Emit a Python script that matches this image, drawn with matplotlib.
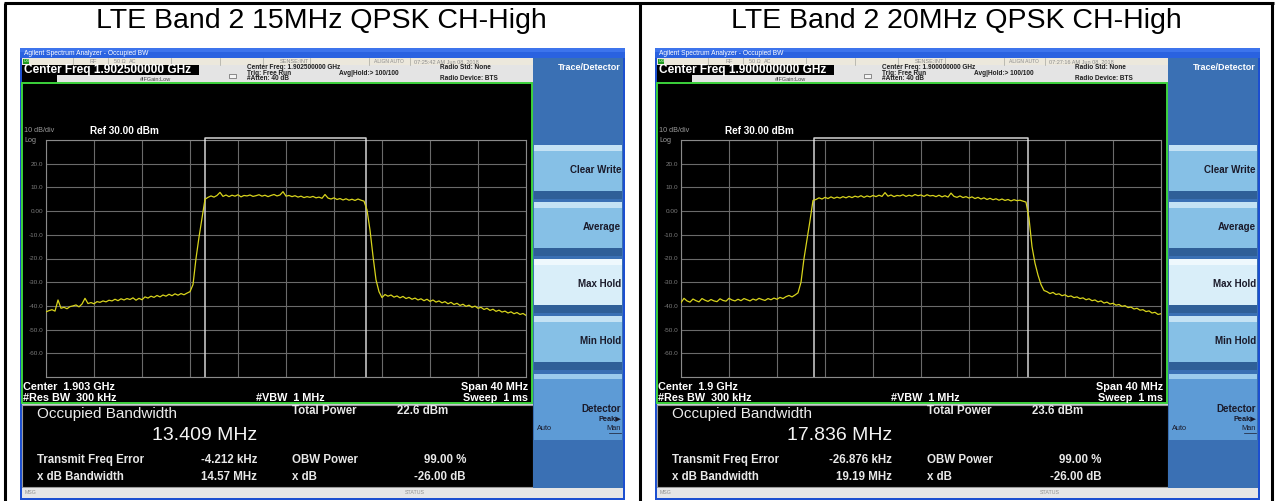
import numpy as np
import matplotlib
matplotlib.use("Agg")
import matplotlib.pyplot as plt
from matplotlib.patches import Rectangle

W, H = 1276, 501
plt.rcParams['font.family'] = ['Liberation Sans', 'DejaVu Sans']

# ---------------- data ----------------
titles = ["LTE Band 2 15MHz QPSK CH-High", "LTE Band 2 20MHz QPSK CH-High"]
center_freqs = ["1.902500000 GHz", "1.900000000 GHz"]
timestamps = ["07:25:42 AM Jun 08, 2018", "07:27:16 AM Jun 08, 2018"]
center_labels = ["Center  1.903 GHz", "Center  1.9 GHz"]
obw_values = ["13.409 MHz", "17.836 MHz"]
total_powers = ["22.6 dBm", "23.6 dBm"]
freq_errors = ["-4.212 kHz", "-26.876 kHz"]
xdb_bandwidths = ["14.57 MHz", "19.19 MHz"]
obw_edges_15 = [-6.709, 6.700]     # MHz offset from center
obw_edges_20 = [-8.945, 8.891]
ytick_vals = [-70, -60, -50, -40, -30, -20, -10, 0, 10, 20, 30]
ytick_labels = ["", "-60.0", "-50.0", "-40.0", "-30.0", "-20.0", "-10.0", "0.00", "10.0", "20.0", ""]
button_labels = ["Clear Write", "Average", "Max Hold", "Min Hold"]

# trace levels (dBm), sweep -20 .. +20 MHz, 0.25 MHz per point
trace_15 = [
    -42.5, -42.0, -41.6, -42.2, -37.5, -41.0, -40.6, -41.2, -40.3, -40.0,
    -39.6, -40.4, -39.2, -36.8, -39.0, -38.6, -39.1, -38.2, -38.5, -37.9,
    -38.3, -37.6, -37.9, -37.2, -37.8, -37.0, -37.5, -36.9, -37.3, -36.6,
    -37.6, -36.8, -37.4, -36.2, -36.7, -35.9, -36.4, -35.6, -36.2, -35.4,
    -35.9, -35.1, -35.7, -34.9, -35.5, -34.8, -35.3, -34.6,
    -34.0, -31.0, -20.0, -11.0, -3.0, 5.0,
    5.8, 6.4, 5.9, 6.6, 7.9, 6.2, 6.8, 6.1, 6.7, 6.3,
    6.9, 6.0, 6.6, 6.4, 6.8, 6.2, 6.5, 6.9, 6.3, 6.7,
    6.1, 6.6, 7.0, 6.4, 6.8, 8.2, 6.3, 6.6, 6.1, 6.5,
    5.9, 6.3, 5.7, 6.1, 5.8, 6.2, 5.6, 5.9, 5.4, 7.0,
    5.5, 5.1, 5.6, 4.9, 5.3, 4.7, 5.2, 4.6, 5.0, 4.5,
    5.1, 4.6,
    4.2, 0.5, -8.0, -19.0, -29.0, -34.0, -36.5,
    -35.2, -35.9, -35.4, -36.3, -35.8, -36.6, -36.0, -36.9, -36.4, -37.2,
    -36.7, -37.5, -37.0, -37.8, -37.2, -38.1, -37.5, -38.4, -37.9, -38.7,
    -38.2, -39.1, -38.5, -39.4, -38.9, -39.8, -39.3, -40.2, -39.7, -40.6,
    -40.1, -41.0, -40.6, -41.5, -41.0, -41.9, -41.4, -42.3, -41.8, -42.6,
    -42.2, -43.0, -42.5, -43.3, -42.8, -43.6, -43.2, -44.0,
]
trace_20 = [
    -38.6, -36.8, -37.9, -38.4, -37.1, -37.8, -38.3, -36.9, -37.6, -38.1,
    -37.3, -37.9, -38.2, -37.0, -37.7, -38.0, -36.8, -37.5, -37.9, -37.2,
    -37.8, -36.9, -37.4, -37.9, -37.1, -37.6, -36.8, -37.3, -37.7, -36.9,
    -37.4, -36.7, -37.2, -36.4, -36.9, -36.1, -35.6, -36.2, -35.4,
    -34.5, -30.0, -20.0, -12.0, -4.0, 4.5,
    4.9, 5.6, 5.1, 5.8, 5.3, 6.0, 5.4, 5.9, 5.5, 6.1,
    5.6, 6.2, 5.7, 6.3, 5.9, 6.5, 5.8, 6.4, 6.0, 6.6,
    6.1, 6.7, 6.2, 7.8, 6.3, 6.8, 6.1, 6.6, 6.4, 6.9,
    6.2, 6.7, 6.3, 7.0, 6.5, 6.8, 6.2, 6.9, 6.4, 6.6,
    6.1, 6.7, 6.0, 6.5, 5.9, 7.6, 6.2, 5.8, 6.4, 5.7,
    6.1, 5.5, 6.0, 5.3, 5.8, 5.1, 5.6, 4.9, 5.4, 4.8,
    5.2, 4.6, 5.1, 4.5, 4.9, 4.3, 4.8, 4.4, 4.6, 4.2,
    3.8, -3.0, -15.0, -22.0, -27.0, -31.0, -33.5,
    -34.0, -34.8, -34.3, -35.2, -34.9, -35.7, -35.3, -36.1, -35.8, -36.5,
    -36.2, -36.9, -36.6, -37.4, -37.0, -37.8, -37.5, -38.3, -37.9, -38.8,
    -38.4, -39.2, -38.9, -39.7, -39.4, -40.2, -39.9, -40.7, -40.5, -41.3,
    -41.0, -41.8, -41.6, -42.4, -42.1, -43.0, -42.7, -43.6, -43.3,
]
traces = [trace_15, trace_20]
obw_edges = [obw_edges_15, obw_edges_20]

# ---------------- figure ----------------
fig = plt.figure(figsize=(W / 100, H / 100), dpi=100)
fig.patch.set_facecolor("white")
bg = fig.add_axes([0, 0, 1, 1])
bg.set_xlim(0, W)
bg.set_ylim(H, 0)
bg.axis("off")


def rect(x, y, w, h, fc, ec="none", lw=0, z=1):
    bg.add_patch(Rectangle((x, y), w, h, facecolor=fc, edgecolor=ec, linewidth=lw, zorder=z))


def txt(x, y, s, size, color, ha="left", weight="normal", va="center", z=6, **kw):
    bg.text(x, y, s, fontsize=size, color=color, ha=ha, va=va, fontweight=weight, zorder=z, **kw)


# table lines
for xs, ys in [([4, 1274], [3, 3]), ([5, 5], [3, 501]), ([640, 640], [3, 501]), ([1272, 1272], [3, 501])]:
    bg.plot(xs, ys, color="black", lw=2.2, zorder=10, solid_capstyle="butt")

screen_x = [20, 655]
SW = 605

for p in range(2):
    ox = screen_x[p]
    # title
    txt(ox + SW / 2 - 1, 21, titles[p], 20.5, "black", ha="center")

    # window frame
    rect(ox, 48, SW, 452, "#1c4fd0")
    rect(ox + 2, 58, SW - 4, 440, "#c8ccd4")
    # title bar
    rect(ox, 48, SW, 10, "#2a62e0")
    rect(ox, 48, SW, 4, "#3d74ec")
    txt(ox + 4, 53, "Agilent Spectrum Analyzer - Occupied BW", 4.8, "white")
    # status row
    rect(ox + 2, 58, 511, 6.5, "#ece8dc")
    rect(ox + 3, 58.5, 6, 5.5, "#1f9a1f")
    txt(ox + 4, 61.3, "LXI", 3, "#d0ffd0")
    for sx in [53, 88, 151, 200, 243, 290, 349, 390]:
        bg.plot([ox + sx, ox + sx], [58, 64.5], color="#a8a8a0", lw=0.5, zorder=3)
    for sx, s, fs in [(70, "RF", 4.0), (94, "50 \u03a9", 4.0), (109, "AC", 4.0), (260, "SENSE:INT", 4.0),
                      (354, "ALIGN AUTO", 3.6), (394, timestamps[p], 4.0)]:
        txt(ox + sx, 61.3, s, fs, "#8c8c8c")
    # info area
    rect(ox + 2, 64.5, 511, 18.5, "#e4e4e4")
    rect(ox + 2, 64.5, 177, 10, "black")
    rect(ox + 2, 75, 35, 8, "black")
    txt(ox + 4, 69.6, "Center Freq " + center_freqs[p], 8.6, "white", weight="bold")
    txt(ox + 120, 79.5, "#IFGain:Low", 4.0, "#444444")
    rect(ox + 209, 73.5, 7, 4, "#f4f4f4", ec="#404040", lw=0.4, z=3)
    txt(ox + 227, 67.3, "Center Freq: " + center_freqs[p], 4.7, "#202020", weight="bold")
    txt(ox + 227, 73.1, "Trig: Free Run", 4.7, "#202020", weight="bold")
    txt(ox + 227, 78.9, "#Atten: 40 dB", 4.7, "#202020", weight="bold")
    txt(ox + 319, 73.1, "Avg|Hold:> 100/100", 4.7, "#202020", weight="bold")
    txt(ox + 420, 67.3, "Radio Std: None", 4.7, "#202020", weight="bold")
    txt(ox + 420, 78.9, "Radio Device: BTS", 4.7, "#202020", weight="bold")

    # graph area
    rect(ox + 2, 83, 510, 320, "black", ec="#3cd23c", lw=1.4, z=2)
    txt(ox + 4, 131, "10 dB/div", 5.2, "#9a9a9a")
    txt(ox + 70, 130.5, "Ref 30.00 dBm", 7.2, "white", weight="bold")
    txt(ox + 4, 141, "Log", 5.2, "#9a9a9a")
    txt(ox + 3, 387, center_labels[p], 7.8, "white", weight="bold")
    txt(ox + 3, 398, "#Res BW  300 kHz", 7.8, "white", weight="bold")
    txt(ox + 270, 398, "#VBW  1 MHz", 7.8, "white", weight="bold", ha="center")
    txt(ox + 508, 387, "Span 40 MHz", 7.8, "white", weight="bold", ha="right")
    txt(ox + 508, 398, "Sweep  1 ms", 7.8, "white", weight="bold", ha="right")

    # results area
    rect(ox + 2, 405, 511, 82, "black", ec="#9a9a9a", lw=0.8, z=2)
    txt(ox + 17, 414, "Occupied Bandwidth", 11, "#ececec")
    txt(ox + 237, 436, obw_values[p], 14, "#f4f4f4", ha="right")
    txt(ox + 272, 411, "Total Power", 8.3, "#e8e8e8", weight="bold")
    txt(ox + 377, 411, total_powers[p], 8.3, "#e8e8e8", weight="bold")
    txt(ox + 17, 460, "Transmit Freq Error", 8.3, "#e8e8e8", weight="bold")
    txt(ox + 237, 460, freq_errors[p], 8.3, "#e8e8e8", weight="bold", ha="right")
    txt(ox + 272, 460, "OBW Power", 8.3, "#e8e8e8", weight="bold")
    txt(ox + 446, 460, "99.00 %", 8.3, "#e8e8e8", weight="bold", ha="right")
    txt(ox + 17, 477, "x dB Bandwidth", 8.3, "#e8e8e8", weight="bold")
    txt(ox + 237, 477, xdb_bandwidths[p], 8.3, "#e8e8e8", weight="bold", ha="right")
    txt(ox + 272, 477, "x dB", 8.3, "#e8e8e8", weight="bold")
    txt(ox + 446, 477, "-26.00 dB", 8.3, "#e8e8e8", weight="bold", ha="right")

    # MSG bar
    rect(ox + 2, 488, SW - 4, 10, "#e6e6e6", z=2)
    txt(ox + 5, 493, "MSG", 3.8, "#909090")
    txt(ox + 385, 493, "STATUS", 3.8, "#909090")

    # right soft-key panel
    rect(ox + 513, 58, 90, 430, "#3a70b4", z=2)
    txt(ox + 601, 67.5, "Trace/Detector", 6.5, "white", weight="bold", ha="right")
    for b, lab in enumerate(button_labels):
        top = 145 + 57 * b
        face = "#d9eef9" if lab == "Max Hold" else "#86c0e6"
        rect(ox + 514, top, 88, 54, face, z=3)
        rect(ox + 514, top, 88, 6, "#c4e2f4" if lab != "Max Hold" else "#eef8fd", z=3)
        rect(ox + 514, top + 46, 88, 8, "#2f5f98", z=3)
        txt(ox + 601, top + 25, lab, 7.0, "#1a1a2a", weight="bold", ha="right")
    rect(ox + 514, 374, 88, 66, "#5d9bd6", z=3)
    rect(ox + 514, 374, 88, 5, "#9ccbec", z=3)
    txt(ox + 601, 409, "Detector", 7.0, "#1a1a2a", weight="bold", ha="right")
    txt(ox + 601, 418.5, "Peak\u25b6", 5.3, "#1a1a2a", weight="bold", ha="right")
    txt(ox + 517, 428.5, "Auto", 5.3, "#1a1a2a")
    txt(ox + 601, 428.5, "Man", 5.3, "#1a1a2a", ha="right")
    bg.plot([ox + 589, ox + 601], [432.5, 432.5], color="#1a1a2a", lw=0.5, zorder=6)

    # spectrum grid axes
    gx, gy, gw, gh = ox + 26, 140, 480, 237
    ax = fig.add_axes([gx / W, 1 - (gy + gh) / H, gw / W, gh / H])
    ax.set_facecolor("black")
    levels = np.array(traces[p])
    freqs = np.linspace(-20, 20, len(levels))
    ax.set_xlim(-20, 20)
    ax.set_ylim(-70, 30)
    ax.set_xticks(np.arange(-20, 21, 4))
    ax.set_yticks(ytick_vals)
    ax.set_yticklabels(ytick_labels)
    ax.tick_params(length=0, labelbottom=False, labelsize=4.6, labelcolor="#7c7c7c", pad=2)
    ax.grid(color="#6a6a6a", lw=0.8)
    for s in ax.spines.values():
        s.set_color("#8a8a8a")
        s.set_linewidth(0.8)
    e0, e1 = obw_edges[p]
    for e in (e0, e1):
        ax.axvline(e, color="#d4d4d4", lw=1.1, zorder=3)
    ax.plot([e0, e0, e1, e1], [30, 30.8, 30.8, 30], color="#d4d4d4", lw=1.1, clip_on=False, zorder=3)
    ax.plot(freqs, levels, color="#d8d41c", lw=0.9, zorder=4)

fig.savefig("out.png", dpi=100)
